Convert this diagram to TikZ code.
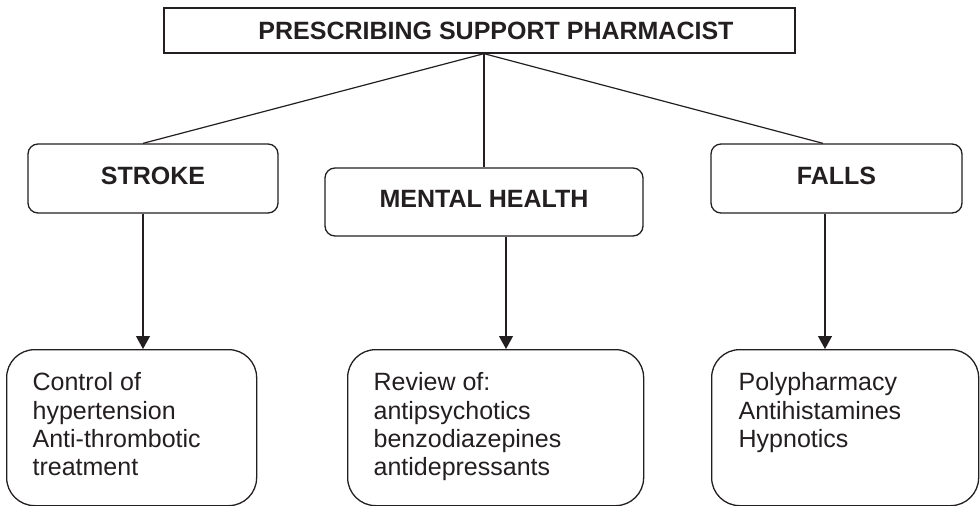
\documentclass[tikz,border=0pt]{standalone}
\usepackage{fontspec}
\setmainfont{Liberation Sans}
\usetikzlibrary{arrows.meta}
\definecolor{ink}{HTML}{231F20}
\begin{document}
\begin{tikzpicture}[x=1pt,y=-1pt,
  every node/.style={draw=ink, text=ink, line width=1.3pt, inner sep=0pt,
    font=\fontsize{25}{28.3}\selectfont},
  head/.style={rectangle, minimum width=631pt, minimum height=45pt,
    font=\fontsize{25}{28.3}\selectfont\bfseries},
  topic/.style={rectangle, rounded corners=10pt, minimum height=69pt,
    font=\fontsize{25}{28.3}\selectfont\bfseries},
  detail/.style={rectangle, rounded corners=28pt, inner xsep=26pt,
    inner ysep=23pt, anchor=north west},
  link/.style={draw=ink, line width=1.2pt},
  arr/.style={link, -{Triangle[width=14pt,length=13pt]}}]
\useasboundingbox (0,0) rectangle (980,506);

% heading box
\node[head] (pharm) at (479.5,30.5)
  {\hspace*{33pt}\raisebox{-3.5pt}{PRESCRIBING SUPPORT PHARMACIST}};

% the three areas of work
\node[topic, minimum width=250pt] (stroke) at (153,178.5) {\raisebox{5.5pt}{STROKE}};
\node[topic, minimum width=318pt, minimum height=68pt] (mental) at (484,202)
  {\raisebox{6pt}{MENTAL HEALTH}};
\node[topic, minimum width=251pt] (falls) at (836.5,178.5) {\raisebox{5.5pt}{FALLS}};

% what each area covers
\node[detail] (ctrl) at (6,349)
  {\parbox[c][110pt][t]{198pt}{\raggedright Control of\\hypertension\\Anti-thrombotic\\treatment}};
\node[detail] (review) at (347,349)
  {\parbox[c][110pt][t]{244pt}{\raggedright Review of:\\antipsychotics\\benzodiazepines\\antidepressants}};
\node[detail, inner xsep=27pt] (risks) at (711,349)
  {\parbox[c][110pt][t]{213pt}{\raggedright Polypharmacy\\Antihistamines\\Hypnotics}};

% branches from the heading
\coordinate (hub) at ([xshift=4.5pt]pharm.south);
\draw[link] (hub) -- ([xshift=-10pt]stroke.north);
\draw[link] (hub) -- (mental.north);
\draw[link] (hub) -- ([xshift=-13.5pt]falls.north);

% arrows down to the details
\draw[arr] ([xshift=-10pt]stroke.south) -- ([xshift=-10pt]stroke.south |- ctrl.north);
\draw[arr] ([xshift=22pt]mental.south) -- ([xshift=22pt]mental.south |- review.north);
\draw[arr] ([xshift=-11.5pt]falls.south) -- ([xshift=-11.5pt]falls.south |- risks.north);
\end{tikzpicture}
\end{document}
